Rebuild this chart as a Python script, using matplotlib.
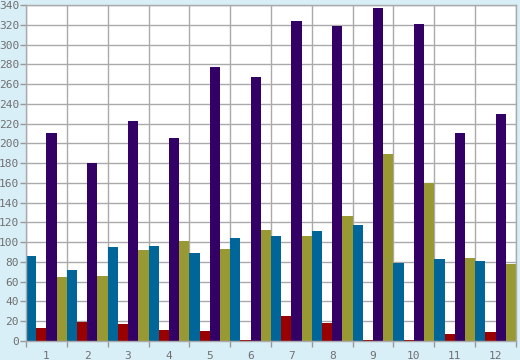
import matplotlib
matplotlib.use("Agg")
import matplotlib.pyplot as plt
import numpy as np

categories = ["1", "2", "3", "4", "5", "6", "7", "8", "9", "10", "11", "12"]
blue = [86, 72, 95, 96, 89, 104, 106, 111, 117, 79, 83, 81]
red = [13, 19, 17, 11, 10, 1, 25, 18, 1, 1, 7, 9]
purple = [210, 180, 223, 205, 277, 267, 324, 319, 337, 321, 210, 230]
olive = [65, 66, 92, 101, 93, 112, 106, 126, 189, 160, 84, 78]
y_ticks = list(range(0, 341, 20))

series = [blue, red, purple, olive]
colors = ["#006699", "#990000", "#330066", "#999933"]

bg = "#d9eff7"
fig = plt.figure(figsize=(5.2, 3.6), dpi=100, facecolor=bg)
ax = fig.add_axes([26 / 520, (360 - 341) / 360, 490 / 520, 336 / 360])
ax.set_facecolor("white")

n = len(categories)
x = np.arange(n)
w = 0.25
for k, (vals, c) in enumerate(zip(series, colors)):
    ax.bar(x + w / 2 + k * w, vals, width=w, color=c, linewidth=0, zorder=2)

ax.set_xlim(0, n)
ax.set_ylim(0, 340)
ax.set_yticks(y_ticks)
ax.set_xticks(np.arange(0, n + 1))
ax.set_xticklabels([])
ax.set_xticks(x + 0.5, minor=True)
ax.set_xticklabels(categories, minor=True)

for lab in ax.get_yticklabels() + ax.get_xticklabels(minor=True):
    lab.set_fontfamily("DejaVu Sans Mono")
    lab.set_fontsize(8)
    lab.set_color("#707070")

ax.tick_params(axis="y", length=4, color="#999999", width=1, pad=1)
ax.tick_params(axis="x", which="major", length=4, color="#999999", width=1)
ax.tick_params(axis="x", which="minor", length=0, pad=7)

ax.grid(True, which="major", color="#aaaaaa", linewidth=1, zorder=0)
ax.set_axisbelow(True)
for s in ax.spines.values():
    s.set_color("#aaaaaa")
    s.set_linewidth(1)

fig.savefig("out.png", dpi=100, facecolor=bg)
